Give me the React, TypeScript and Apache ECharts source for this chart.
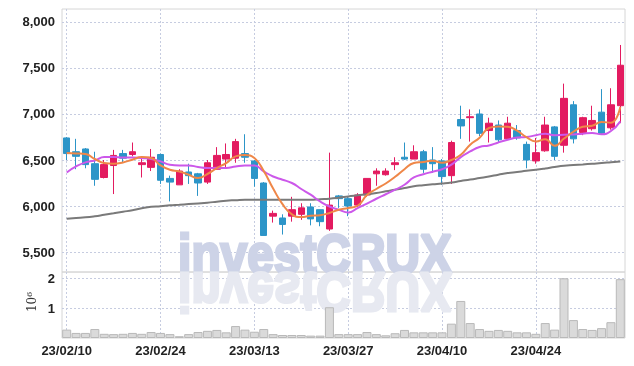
import React, { useEffect, useRef } from "react";
import * as echarts from "echarts";

const dates = [
  "23/02/10", "23/02/13", "23/02/14", "23/02/15", "23/02/16", "23/02/17", "23/02/20", "23/02/21", "23/02/22", "23/02/23",
  "23/02/24", "23/02/27", "23/02/28", "23/03/02", "23/03/03", "23/03/06", "23/03/07", "23/03/08", "23/03/09", "23/03/10",
  "23/03/13", "23/03/14", "23/03/15", "23/03/16", "23/03/17", "23/03/20", "23/03/21", "23/03/22", "23/03/23", "23/03/24",
  "23/03/27", "23/03/28", "23/03/29", "23/03/30", "23/03/31", "23/04/03", "23/04/04", "23/04/05", "23/04/06", "23/04/07",
  "23/04/10", "23/04/11", "23/04/12", "23/04/13", "23/04/14", "23/04/17", "23/04/18", "23/04/19", "23/04/20", "23/04/21",
  "23/04/24", "23/04/25", "23/04/26", "23/04/27", "23/04/28", "23/05/02", "23/05/03", "23/05/04", "23/05/08", "23/05/09",
];

const open = [
  6740, 6590, 6620, 6460, 6310, 6440, 6570, 6560, 6450, 6420,
  6560, 6300, 6230, 6370, 6350, 6260, 6400, 6510, 6520, 6570,
  6490, 6250, 5890, 5870, 5890, 5910, 5990, 5960, 5750, 6110,
  6080, 6010, 6120, 6350, 6340, 6450, 6530, 6510, 6590, 6500,
  6490, 6330, 6940, 6960, 7000, 6820, 6880, 6730, 6820, 6670,
  6490, 6600, 6860, 6660, 7100, 6800, 6840, 7020, 6850, 7090,
];
const close = [
  6570, 6540, 6450, 6290, 6450, 6550, 6520, 6590, 6470, 6530,
  6280, 6260, 6380, 6330, 6250, 6470, 6550, 6560, 6700, 6530,
  6300, 5680, 5920, 5800, 5960, 5980, 5860, 5830, 6010, 6080,
  6000, 6120, 6300, 6380, 6380, 6470, 6510, 6590, 6400, 6460,
  6320, 6690, 6870, 6970, 6790, 6900, 6720, 6900, 6740, 6500,
  6580, 6880, 6540, 7170, 6730, 6960, 6930, 6790, 7100, 7530,
];
const low = [
  6500, 6400, 6410, 6220, 6300, 6130, 6470, 6540, 6310, 6380,
  6240, 6050, 6230, 6240, 6110, 6240, 6400, 6410, 6470, 6470,
  6210, 5680, 5820, 5690, 5830, 5850, 5790, 5780, 5730, 5980,
  5890, 5990, 6100, 6220, 6330, 6390, 6500, 6510, 6360, 6360,
  6230, 6240, 6730, 6700, 6760, 6690, 6690, 6720, 6720, 6410,
  6460, 6590, 6500, 6580, 6680, 6770, 6820, 6780, 6830, 6900,
];
const high = [
  6750, 6730, 6630, 6590, 6500, 6610, 6610, 6690, 6540, 6620,
  6570, 6330, 6400, 6460, 6360, 6500, 6640, 6680, 6730, 6780,
  6500, 6260, 5950, 5910, 6100, 6030, 6030, 5960, 6580, 6120,
  6100, 6140, 6300, 6410, 6410, 6530, 6690, 6660, 6610, 6640,
  6510, 6710, 7090, 7050, 7050, 6960, 6930, 6970, 6880, 6700,
  6740, 6970, 6870, 7330, 7140, 6970, 7090, 7270, 7280, 7750,
];

const ma5 = [
  6576, 6571, 6565, 6511, 6467, 6460, 6474, 6503, 6532, 6521,
  6441, 6394, 6376, 6340, 6304, 6348, 6413, 6467, 6539, 6554,
  6521, 6380, 6190, 6020, 5910, 5880, 5894, 5900, 5925, 5960,
  5978, 6003, 6120, 6185, 6245, 6318, 6400, 6467, 6478, 6492,
  6470, 6500, 6557, 6666, 6742, 6848, 6865, 6862, 6818, 6748,
  6702, 6726, 6655, 6733, 6807, 6862, 6873, 6914, 6905, 7076,
];
const ma10 = [
  6365, 6430, 6474, 6495, 6532, 6532, 6528, 6528, 6521, 6511,
  6485, 6449, 6441, 6441, 6424, 6413, 6416, 6413, 6430, 6441,
  6441, 6376, 6321, 6286, 6250, 6185, 6123, 6050, 5995, 5960,
  5930, 5978, 6025, 6079, 6128, 6177, 6231, 6310, 6345, 6373,
  6400, 6449, 6532, 6593, 6641, 6658, 6691, 6720, 6745, 6750,
  6769, 6786, 6769, 6775, 6777, 6786, 6793, 6780, 6815, 6920,
];
const maLong = [
  5862, 5870, 5877, 5889, 5905, 5921, 5938, 5954, 5976, 5992,
  5997, 6008, 6014, 6021, 6028, 6036, 6047, 6058, 6063, 6068,
  6068, 6068, 6068, 6068, 6068, 6068, 6068, 6074, 6079, 6090,
  6104, 6117, 6128, 6141, 6160, 6177, 6195, 6215, 6226, 6236,
  6245, 6256, 6272, 6287, 6304, 6321, 6340, 6358, 6370, 6383,
  6394, 6408, 6424, 6438, 6445, 6452, 6460, 6467, 6476, 6485,
];

// volume in millions of shares
const volume = [
  0.28, 0.17, 0.17, 0.30, 0.14, 0.13, 0.14, 0.17, 0.14, 0.20,
  0.17, 0.13, 0.06, 0.13, 0.20, 0.24, 0.27, 0.19, 0.40, 0.28,
  0.21, 0.30, 0.13, 0.10, 0.10, 0.10, 0.08, 0.08, 1.03, 0.13,
  0.13, 0.13, 0.20, 0.13, 0.09, 0.16, 0.27, 0.19, 0.19, 0.19,
  0.19, 0.48, 1.24, 0.50, 0.30, 0.24, 0.27, 0.24, 0.19, 0.19,
  0.14, 0.50, 0.28, 2.00, 0.60, 0.30, 0.27, 0.33, 0.53, 1.97,
];

const UP = "#e31b60";
const DOWN = "#2c95c8";

export default function App() {
  const ref = useRef<HTMLDivElement>(null);
  useEffect(() => {
    const chart = echarts.init(ref.current!, null, { renderer: "svg" });
    const candles = dates.map((_, i) => [open[i], close[i], low[i], high[i]]);
    const labelFont = {
      fontFamily: "Liberation Sans",
      fontSize: 13,
      fontWeight: "bold",
      color: "#222",
    };
    const dotted = { color: "#c6cce0", type: [2, 2], width: 1 };
    const wm = {
      text: "investCRUX",
      x: 0,
      y: -19,
      align: "center",
      verticalAlign: "middle",
      fontSize: 55,
      fontWeight: "bold",
      fontFamily: "Liberation Sans",
      lineWidth: 3,
    };
    chart.setOption({
      animation: false,
      grid: [
        { left: 62, top: 9, width: 563, height: 263, show: true, borderColor: "#d6d6d6", borderWidth: 1 },
        { left: 62, top: 272, width: 563, height: 66, show: true, borderColor: "#d6d6d6", borderWidth: 1 },
      ],
      xAxis: [
        {
          type: "category",
          gridIndex: 0,
          data: dates,
          boundaryGap: true,
          axisLine: { show: false },
          axisTick: { show: false },
          axisLabel: { show: false },
          splitLine: { show: true, interval: 9, alignWithLabel: true, lineStyle: dotted },
        },
        {
          type: "category",
          gridIndex: 1,
          data: dates,
          boundaryGap: true,
          axisLine: { show: false },
          axisTick: { show: false },
          axisLabel: { interval: 9, margin: 6, ...labelFont },
          splitLine: { show: true, interval: 9, alignWithLabel: true, lineStyle: dotted },
        },
      ],
      yAxis: [
        {
          type: "value",
          gridIndex: 0,
          min: 5283,
          max: 8141,
          splitNumber: 5,
          axisLine: { show: false },
          axisTick: { show: false },
          axisLabel: {
            margin: 7,
            ...labelFont,
            formatter: (v: number) => (v % 500 === 0 ? v.toLocaleString("en-US") : ""),
          },
          splitLine: { show: true, showMinLine: false, showMaxLine: false, lineStyle: dotted },
        },
        {
          type: "value",
          gridIndex: 1,
          min: 0,
          max: 2.21,
          interval: 1,
          axisLine: { show: false },
          axisTick: { show: false },
          axisLabel: {
            margin: 7,
            ...labelFont,
            formatter: (v: number) => (v === 1 || v === 2 ? String(v) : ""),
          },
          splitLine: { show: true, showMinLine: false, showMaxLine: false, lineStyle: dotted },
        },
      ],
      series: [
        {
          type: "candlestick",
          xAxisIndex: 0,
          yAxisIndex: 0,
          data: candles,
          barWidth: 7,
          z: 3,
          itemStyle: { color: UP, color0: DOWN, borderColor: UP, borderColor0: DOWN, borderWidth: 1 },
        },
        {
          type: "line",
          xAxisIndex: 0,
          yAxisIndex: 0,
          data: maLong,
          smooth: true,
          showSymbol: false,
          z: 4,
          lineStyle: { color: "#7a7a7a", width: 2 },
        },
        {
          type: "line",
          xAxisIndex: 0,
          yAxisIndex: 0,
          data: ma10,
          smooth: true,
          showSymbol: false,
          z: 4,
          lineStyle: { color: "#cc58ea", width: 2 },
        },
        {
          type: "line",
          xAxisIndex: 0,
          yAxisIndex: 0,
          data: ma5,
          smooth: true,
          showSymbol: false,
          z: 5,
          lineStyle: { color: "#ef8748", width: 2 },
        },
        {
          type: "bar",
          xAxisIndex: 1,
          yAxisIndex: 1,
          data: volume,
          barCategoryGap: "4%",
          itemStyle: { color: "#dadada", borderColor: "#b9b9b9", borderWidth: 1 },
        },
      ],
      graphic: [
        { type: "text", z: 1, x: 315, y: 273, scaleX: 0.87, style: { ...wm, fill: "#cdd3e7", stroke: "#cdd3e7" } },
        { type: "text", z: 1, x: 315, y: 273, scaleX: 0.87, scaleY: -1, style: { ...wm, fill: "#e7e9f1", stroke: "#e7e9f1" } },
        {
          type: "text",
          x: 32,
          y: 302,
          rotation: Math.PI / 2,
          style: {
            text: "10⁶",
            align: "center",
            verticalAlign: "middle",
            fontSize: 12,
            fontFamily: "DejaVu Serif",
            fill: "#333",
          },
        },
      ],
    });
    return () => chart.dispose();
  }, []);
  return <div ref={ref} style={{ position: "fixed", left: 0, top: 0, width: 634, height: 366 }} />;
}
